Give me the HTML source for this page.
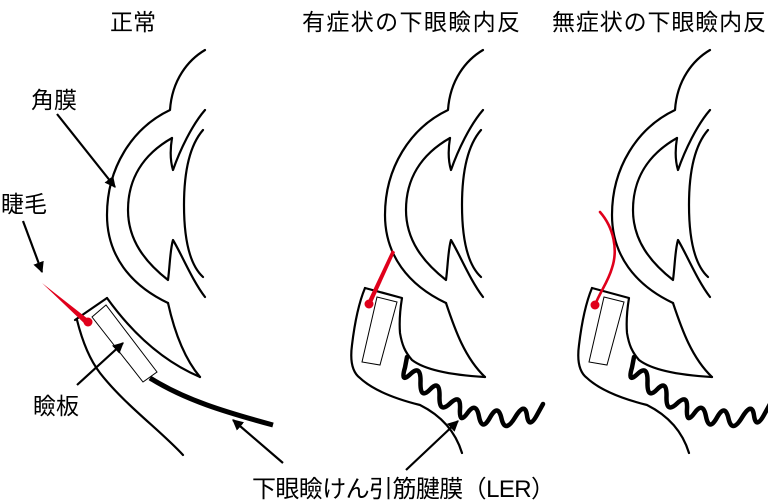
<!DOCTYPE html>
<html><head><meta charset="utf-8"><style>
html,body{margin:0;padding:0;background:#fff;}
svg{display:block;}
text{font-family:"Liberation Sans","Noto Sans CJK JP",sans-serif;fill:#000;}
</style></head><body>
<svg width="768" height="503" viewBox="0 0 768 503" xmlns="http://www.w3.org/2000/svg">
<defs>
<marker id="ah" viewBox="0 0 10 10" refX="9" refY="5" markerWidth="5" markerHeight="5" orient="auto" markerUnits="strokeWidth">
<path d="M0,0 L10,5 L0,10 z" fill="#000"/>
</marker>
<g id="eyeTop" fill="none" stroke="#000" stroke-width="2.2" stroke-linecap="round" stroke-linejoin="round">
<path d="M205,50 C188,60 172,80 170,110 C132,128 107,168 107,215 C107,255 130,285 168,303"/>
<path d="M172,138 C142,155 128,180 128,210 C128,240 145,262 168,280 C170,265 170,250 173,240 C182,255 192,280 205,297"/>
<path d="M172,138 C170,150 170,160 173,170 C180,150 192,125 205,110"/>
<path d="M203,130 C190,145 184,170 184,205 C184,240 190,265 203,277"/>
</g>
<path id="wave" d="M407,357 L405,367.5 Q400,384 410.5,374 Q421,364 420.5,382 Q420,400 430,389.5 Q440,379 439.5,396.5 Q439,414 450,403.5 Q461,393 460,409 Q459,425 467.5,413 Q476,401 479,416.5 Q482,432 490,417.5 Q498,403 501.5,418.5 Q505,434 515,417.5 Q525,401 527,415.5 Q529,430 537.5,414 L543,404" fill="none" stroke="#000" stroke-width="4.5" stroke-linejoin="round" stroke-linecap="round"/>
</defs>

<text x="110" y="30" font-size="23">正常</text>
<text x="302" y="30" font-size="23" textLength="218">有症状の下眼瞼内反</text>
<text x="552" y="30" font-size="23" textLength="214">無症状の下眼瞼内反</text>

<use href="#eyeTop"/>
<g fill="none" stroke="#000" stroke-width="2.2" stroke-linecap="round" stroke-linejoin="round">
<path d="M168,303 C174,330 184,358 200,377"/>
<path d="M107,298 C130,330 160,360 200,377"/>
<path d="M107,298 L75,320"/>
<path d="M77,320 C82,340 90,360 100,373 C125,405 160,430 183,455"/>
</g>
<polygon points="92,317 106,305 157,372 143,382" fill="#fff" stroke="#000" stroke-width="1"/>
<path d="M150,378 C185,400 225,412 273,425" fill="none" stroke="#000" stroke-width="5"/>
<polygon points="42,283 88,319 86,325" fill="#e0001b"/>
<circle cx="88" cy="322" r="4.5" fill="#e0001b"/>

<g transform="translate(278,0)"><use href="#eyeTop"/></g>
<g fill="none" stroke="#000" stroke-width="2.2" stroke-linecap="round" stroke-linejoin="round">
<path d="M446,303 C455,330 465,358 485,377"/>
<path d="M365,288 L402,298 C400,310 399,320 400,333 C402,345 405,352 412,360 C425,370 450,375 485,377"/>
<path d="M365,288 C360,300 355,320 352,345 C350,360 352,372 360,378 C375,392 400,400 420,405 C440,415 455,430 462,453"/>
</g>
<polygon points="377,297 397,302 380,365 362,362" fill="#fff" stroke="#000" stroke-width="1"/>
<use href="#wave"/>
<polygon points="392,250 395,252 371,305 367,303" fill="#e0001b"/>
<circle cx="369" cy="304" r="4.5" fill="#e0001b"/>

<g transform="translate(505,0)"><use href="#eyeTop"/></g>
<g transform="translate(227,0)">
<g fill="none" stroke="#000" stroke-width="2.2" stroke-linecap="round" stroke-linejoin="round">
<path d="M446,303 C455,330 465,358 485,377"/>
<path d="M365,288 L402,298 C400,310 399,320 400,333 C402,345 405,352 412,360 C425,370 450,375 485,377"/>
<path d="M365,288 C360,300 355,320 352,345 C350,360 352,372 360,378 C375,392 400,400 420,405 C440,415 455,430 462,453"/>
</g>
<polygon points="377,297 397,302 380,365 362,362" fill="#fff" stroke="#000" stroke-width="1"/>
<use href="#wave"/>
</g>
<path d="M600,212 C614,228 618,250 612,268 C608,282 600,292 595,305" fill="none" stroke="#e0001b" stroke-width="2.6" stroke-linecap="round"/>
<circle cx="595" cy="305" r="4.5" fill="#e0001b"/>

<text x="31" y="108" font-size="23">角膜</text>
<line x1="57" y1="114" x2="115" y2="187" stroke="#000" stroke-width="2.2" marker-end="url(#ah)"/>
<text x="1" y="212" font-size="23">睫毛</text>
<line x1="23" y1="221" x2="42" y2="272" stroke="#000" stroke-width="2.2" marker-end="url(#ah)"/>
<text x="33" y="414" font-size="23">瞼板</text>
<line x1="77" y1="385" x2="123" y2="343" stroke="#000" stroke-width="2.2" marker-end="url(#ah)"/>
<line x1="283" y1="463" x2="233" y2="420" stroke="#000" stroke-width="2.2" marker-end="url(#ah)"/>
<line x1="406" y1="470" x2="458" y2="421" stroke="#000" stroke-width="2.2" marker-end="url(#ah)"/>
<text x="252" y="497" font-size="24" textLength="303">下眼瞼けん引筋腱膜（LER）</text>
</svg>
</body></html>
